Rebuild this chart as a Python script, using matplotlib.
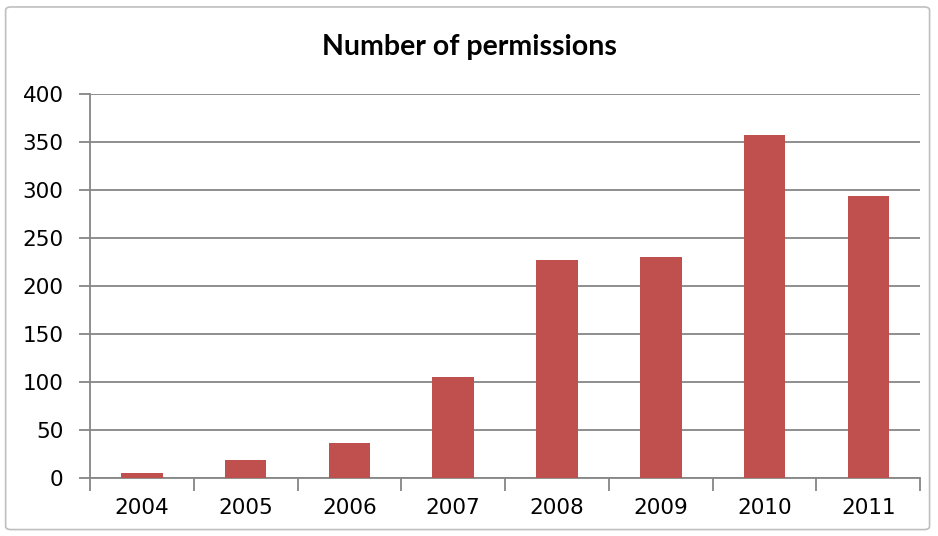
import matplotlib.pyplot as plt
import numpy as np
from matplotlib.patches import FancyBboxPatch

years = ['2004', '2005', '2006', '2007', '2008', '2009', '2010', '2011']
permissions = [5, 19, 37, 105, 227, 230, 357, 294]
y_ticks = [0, 50, 100, 150, 200, 250, 300, 350, 400]

bar_color = '#C0504D'
grid_color = '#868686'

fig = plt.figure(figsize=(9.38, 5.36), dpi=100)
ax = fig.add_axes([0.096, 0.108, 0.885, 0.717])

# chart border
border = FancyBboxPatch((0.006, 0.012), 0.985, 0.975, boxstyle='round,pad=0,rounding_size=0.006',
                        transform=fig.transFigure, facecolor='none', edgecolor='#BFBFBF', lw=1.2)
fig.patches.append(border)

x = np.arange(len(years))
ax.bar(x, permissions, width=0.4, color=bar_color, zorder=3)

ax.set_xlim(-0.5, len(years) - 0.5)
ax.set_ylim(0, 400)
ax.set_yticks(y_ticks)
ax.yaxis.grid(True, color=grid_color, lw=1.3, zorder=0)

# ticks at category boundaries, labels at centers
ax.set_xticks(np.arange(-0.5, len(years), 1.0))
ax.set_xticklabels([])
ax.set_xticks(x, minor=True)
ax.set_xticklabels(years, minor=True)
ax.tick_params(axis='x', which='major', length=9, width=1.3, color=grid_color, direction='out')
ax.tick_params(axis='x', which='minor', length=0, pad=14, labelsize=15.5)
ax.tick_params(axis='y', length=8, width=1.3, color=grid_color, labelsize=15.5, pad=11)

for s in ['top', 'right']:
    ax.spines[s].set_visible(False)
for s in ['left', 'bottom']:
    ax.spines[s].set_color(grid_color)
    ax.spines[s].set_linewidth(1.3)

fig.text(0.5, 0.913, 'Number of permissions', ha='center', va='center',
         fontsize=20.5, fontweight='bold', family='Lato')

plt.savefig('out.png', dpi=100)
